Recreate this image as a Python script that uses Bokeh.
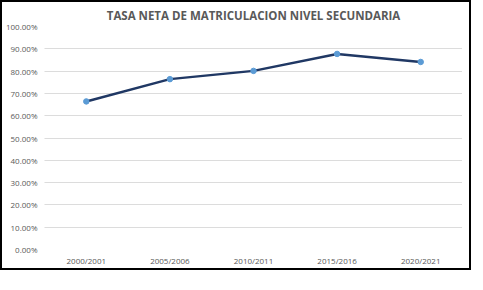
from bokeh.plotting import figure
from bokeh.embed import file_html
from bokeh.resources import INLINE
from bokeh.models import NumeralTickFormatter, FixedTicker, Range1d

years = ["2000/2001", "2005/2006", "2010/2011", "2015/2016", "2020/2021"]
rates = [0.664, 0.764, 0.801, 0.877, 0.841]
y_ticks = [0.0, 0.1, 0.2, 0.3, 0.4, 0.5, 0.6, 0.7, 0.8, 0.9, 1.0]

p = figure(x_range=years, y_range=Range1d(0, 1.0),
           frame_width=418, frame_height=223,
           output_backend="svg", toolbar_location=None,
           title="TASA NETA DE MATRICULACION NIVEL SECUNDARIA",
           min_border_left=38, min_border_right=7, min_border_top=6, min_border_bottom=6,
           styles={"border": "2px solid black"})
p.x_range.range_padding = 0

p.title.align = "center"
p.title.text_font = "Open Sans"
p.title.text_font_size = "11.5px"
p.title.text_font_style = "bold"
p.title.text_color = "#595959"
p.title.offset = 0
p.title.standoff = 7

p.line(years, rates, line_color="#203864", line_width=2.5)
p.scatter(years, rates, size=5.5, fill_color="#5B9BD5", line_color="#5B9BD5")

p.yaxis.ticker = FixedTicker(ticks=y_ticks)
p.yaxis.formatter = NumeralTickFormatter(format="0.00%")
for ax in (p.xaxis, p.yaxis):
    ax.axis_line_color = None
    ax.major_tick_line_color = None
    ax.minor_tick_line_color = None
    ax.major_label_text_font = "Open Sans"
    ax.major_label_text_font_size = "8px"
    ax.major_label_text_color = "#595959"
    ax.major_tick_in = 0
    ax.major_tick_out = 0
p.yaxis.major_label_standoff = 7
p.xaxis.major_label_standoff = 5

p.xgrid.grid_line_color = None
p.ygrid.grid_line_color = "#B8B8B8"
p.ygrid.grid_line_dash = "1 1"
p.ygrid.grid_line_width = 1
p.outline_line_color = None

open("out.html", "w").write(file_html(p, INLINE))
